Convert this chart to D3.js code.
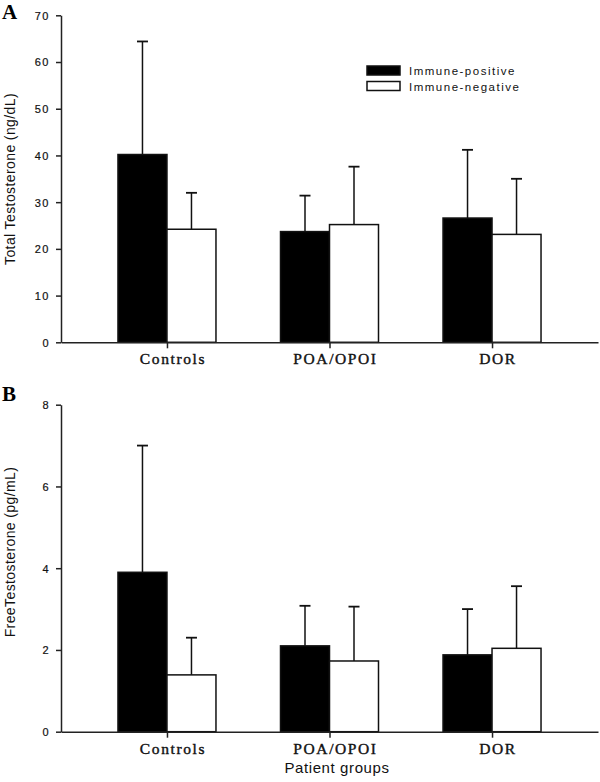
<!DOCTYPE html>
<html>
<head>
<meta charset="utf-8">
<script src="https://cdn.jsdelivr.net/npm/d3@7"></script>
<style>
  body { margin: 0; background: #fff; }
  svg { display: block; }
  .tick text { font-family: "Liberation Sans", Arial, sans-serif; }
</style>
</head>
<body>
<div id="chart"></div>
<script>
// data
var groups = ["Controls", "POA/OPOI", "DOR"];
var series = ["Immune-positive", "Immune-negative"];
var total_pos = [40.2, 23.7, 26.6];
var total_pos_err = [64.4, 31.4, 41.2];
var total_neg = [24.2, 25.2, 23.1];
var total_neg_err = [32.0, 37.6, 35.0];
var free_pos = [3.9, 2.1, 1.88];
var free_pos_err = [7.0, 3.08, 3.0];
var free_neg = [1.39, 1.73, 2.04];
var free_neg_err = [2.3, 3.06, 3.56];
var total_ticks = [0, 10, 20, 30, 40, 50, 60, 70];
var free_ticks = [0, 2, 4, 6, 8];

var svg = d3.select("#chart").append("svg")
    .attr("width", 600)
    .attr("height", 782);

var left = 61, right = 598;
var fills = ["#000", "#fff"];

var x = d3.scalePoint().domain(groups).range([left, right]).padding(0.652);
var inner = d3.scaleBand().domain(series).range([-49, 49]);

function panel(opts) {
    var y = d3.scaleLinear().domain([0, opts.max]).range([opts.bottom, opts.top]);
    var g = svg.append("g");

    // bars + error bars
    series.forEach(function(s, si) {
        var vals = opts.vals[si], errs = opts.errs[si];
        groups.forEach(function(grp, i) {
            var bx = x(grp) + inner(s);
            var cx = bx + inner.bandwidth() / 2;
            g.append("line")
                .attr("x1", cx).attr("x2", cx)
                .attr("y1", y(vals[i])).attr("y2", y(errs[i]))
                .attr("stroke", "#111").attr("stroke-width", 1.5);
            g.append("line")
                .attr("x1", cx - 5.5).attr("x2", cx + 5.5)
                .attr("y1", y(errs[i])).attr("y2", y(errs[i]))
                .attr("stroke", "#111").attr("stroke-width", 1.8);
            g.append("rect")
                .attr("x", bx)
                .attr("y", y(vals[i]))
                .attr("width", inner.bandwidth())
                .attr("height", y(0) - y(vals[i]))
                .attr("fill", fills[si])
                .attr("stroke", "#111")
                .attr("stroke-width", 1.5);
        });
    });

    // y axis
    var ya = g.append("g")
        .attr("transform", "translate(" + left + ",0)")
        .call(d3.axisLeft(y).tickValues(opts.ticks).tickSize(5).tickSizeOuter(0).tickPadding(6));
    ya.select(".domain").attr("stroke", "#222").attr("stroke-width", 1.5);
    ya.selectAll(".tick line").attr("stroke", "#222").attr("stroke-width", 1.5);
    ya.selectAll(".tick text")
        .attr("font-size", 11)
        .attr("letter-spacing", 1.5)
        .attr("fill", "#111")
        .attr("stroke", "#111")
        .attr("stroke-width", 0.2)
        .attr("dy", "0.35em");

    // x axis
    var xa = g.append("g")
        .attr("transform", "translate(0," + opts.bottom + ")")
        .call(d3.axisBottom(x).tickSize(6).tickSizeOuter(0).tickFormat(""));
    xa.select(".domain").attr("stroke", "#222").attr("stroke-width", 1.5);
    xa.selectAll(".tick line").attr("stroke", "#222").attr("stroke-width", 1.5);

    g.selectAll(".cat")
        .data(groups)
        .enter().append("text")
        .attr("x", function(d) { return x(d) + 6; })
        .attr("y", opts.bottom + 22)
        .attr("text-anchor", "middle")
        .attr("font-family", "'Liberation Serif', 'Times New Roman', serif")
        .attr("font-size", 15.5)
        .attr("letter-spacing", 1.6)
        .attr("fill", "#111")
        .attr("stroke", "#111")
        .attr("stroke-width", 0.4)
        .text(function(d) { return d; });

    // y title
    g.append("text")
        .attr("transform", "translate(" + 15 + "," + opts.titleY + ") rotate(-90)")
        .attr("text-anchor", "middle")
        .attr("font-family", "'Liberation Sans', Arial, sans-serif")
        .attr("font-size", 14)
        .attr("letter-spacing", 0.4)
        .attr("fill", "#111")
        .text(opts.title);

    // panel letter
    g.append("text")
        .attr("x", 2)
        .attr("y", opts.letterY)
        .attr("font-family", "'Liberation Serif', 'Times New Roman', serif")
        .attr("font-weight", "bold")
        .attr("font-size", 21)
        .attr("fill", "#000")
        .text(opts.letter);
}

panel({
    vals: [total_pos, total_neg], errs: [total_pos_err, total_neg_err],
    max: 70, ticks: total_ticks, top: 15.3, bottom: 342.3,
    title: "Total Testosterone (ng/dL)", titleY: 179, letter: "A", letterY: 19
});

panel({
    vals: [free_pos, free_neg], errs: [free_pos_err, free_neg_err],
    max: 8, ticks: free_ticks, top: 404.7, bottom: 731.7,
    title: "FreeTestosterone (pg/mL)", titleY: 552, letter: "B", letterY: 401
});

// legend
var legend = svg.append("g").attr("transform", "translate(367,66)");
series.forEach(function(s, i) {
    legend.append("rect")
        .attr("x", 0).attr("y", i * 15.5)
        .attr("width", 33).attr("height", 9)
        .attr("fill", fills[i])
        .attr("stroke", "#111").attr("stroke-width", 1.5);
    legend.append("text")
        .attr("x", 42).attr("y", i * 15.5 + 9)
        .attr("font-family", "'Liberation Sans', Arial, sans-serif")
        .attr("font-size", 11.5)
        .attr("letter-spacing", 1.5)
        .attr("fill", "#111")
        .text(s);
});

// x title
svg.append("text")
    .attr("x", 337)
    .attr("y", 773)
    .attr("text-anchor", "middle")
    .attr("font-family", "'Liberation Sans', Arial, sans-serif")
    .attr("font-size", 15)
    .attr("letter-spacing", 0.6)
    .attr("fill", "#111")
    .text("Patient groups");
</script>
</body>
</html>
